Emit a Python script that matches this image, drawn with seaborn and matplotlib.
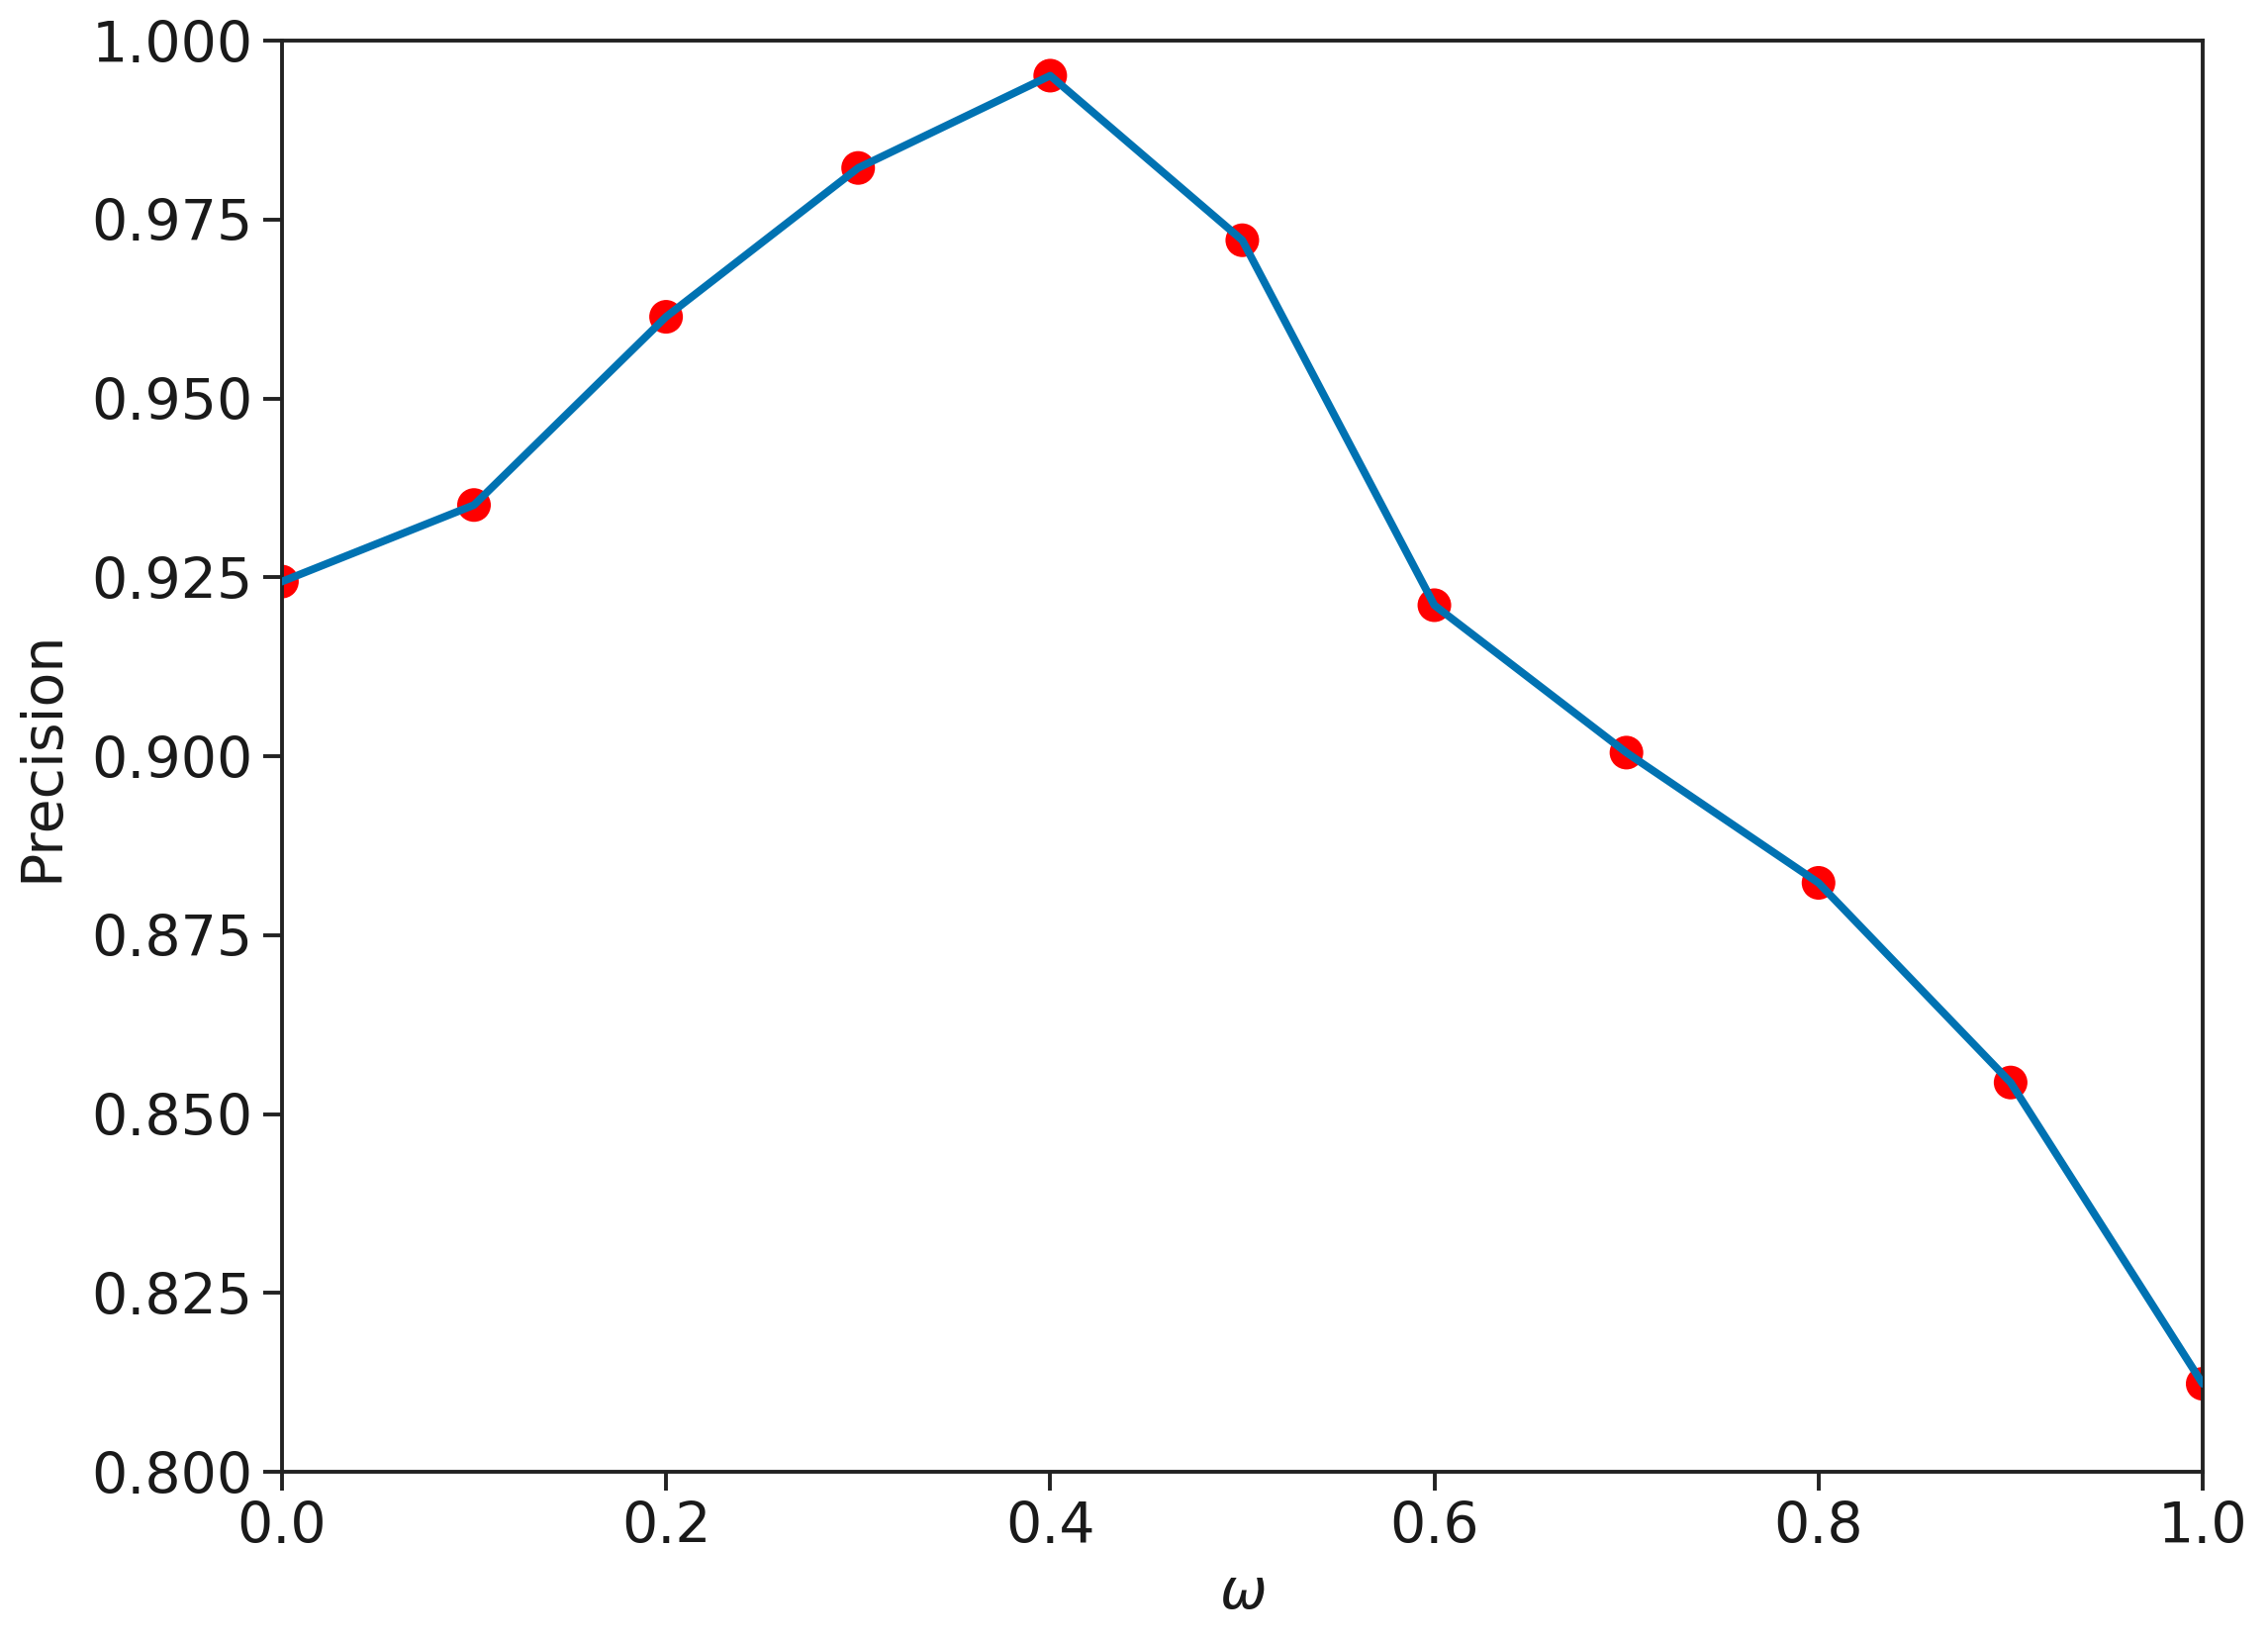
import numpy as np
import pandas as pd
import matplotlib
matplotlib.use("Agg")
from matplotlib import pyplot as plt
import seaborn as sns

# omega と precision の値
omega = [0.0, 0.1, 0.2, 0.3, 0.4, 0.5, 0.6, 0.7, 0.8, 0.9, 1.0]
precision = [0.9244, 0.9351, 0.9614, 0.9822, 0.9951, 0.9721,
             0.9211, 0.9005, 0.8823, 0.8544, 0.8123]
yticks = [0.800, 0.825, 0.850, 0.875, 0.900, 0.925, 0.950, 0.975, 1.000]
xticks = [0.0, 0.2, 0.4, 0.6, 0.8, 1.0]

df = pd.DataFrame({"omega": omega, "precision": precision})

sns.set_style("ticks")
plt.rcParams['font.family'] = ['DejaVu Sans']
plt.rcParams['text.color'] = '#1a1a1a'
plt.rcParams['axes.labelcolor'] = '#1a1a1a'

fig = plt.figure(figsize=(11.46, 8.3), dpi=200)
ax = fig.add_axes([0.1243, 0.1042, 0.9712 - 0.1243, 0.9753 - 0.1042])

# 赤い点を先に描いて、その上に青い線
sns.scatterplot(data=df, x="omega", y="precision", color="red", s=150,
                edgecolor="none", ax=ax, zorder=2)
sns.lineplot(data=df, x="omega", y="precision", color="#0072B2",
             linewidth=2.8, ax=ax, zorder=3)

ax.set_xlim(0.0, 1.0)
ax.set_ylim(0.8, 1.0)
ax.set_xticks(xticks)
ax.set_yticks(yticks)
ax.set_xticklabels(["%.1f" % v for v in xticks])
ax.set_yticklabels(["%.3f" % v for v in yticks])
ax.tick_params(labelsize=20.5, length=7, width=1.4, color="#222222",
               labelcolor="#1a1a1a")
ax.set_xlabel(r"$\omega$", fontsize=20.5, labelpad=4)
ax.set_ylabel("Precision", fontsize=20.5, labelpad=8)

for sp in ax.spines.values():
    sp.set_visible(True)
    sp.set_linewidth(1.4)
    sp.set_color("#222222")

plt.savefig("out.png", dpi=200)
